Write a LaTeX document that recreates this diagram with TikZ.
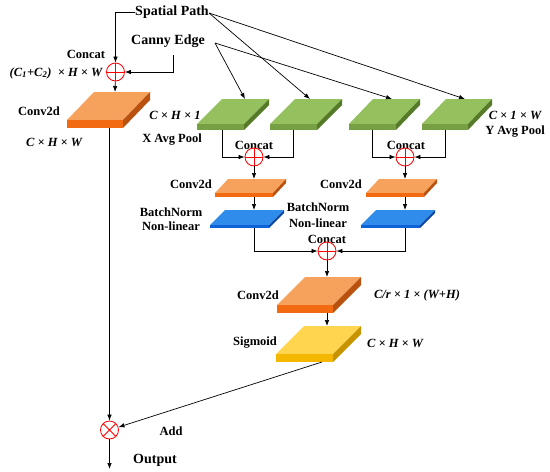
\documentclass[tikz,border=0pt]{standalone}
\usepackage{fontspec}
\setmainfont{Liberation Serif}
\usetikzlibrary{arrows.meta}
\definecolor{orT}{HTML}{F7A25C}
\definecolor{orF}{HTML}{F26B10}
\definecolor{orS}{HTML}{B8520E}
\definecolor{grT}{HTML}{95C05E}
\definecolor{grF}{HTML}{76A043}
\definecolor{grS}{HTML}{557A28}
\definecolor{blT}{HTML}{2F8CEB}
\definecolor{blF}{HTML}{0D62D8}
\definecolor{blS}{HTML}{0A47A2}
\definecolor{yeT}{HTML}{FFD550}
\definecolor{yeF}{HTML}{F5B800}
\definecolor{yeS}{HTML}{C79400}
% #1 x, #2 y of front-top-left, #3 width, #4 dx, #5 dy, #6 thickness, #7 top, #8 front, #9 side
\newcommand\mkslab[9]{%
  \fill[#7] (#1,#2) -- ({#1+#3},#2) -- ({#1+#3+#4},{#2-#5}) -- ({#1+#4},{#2-#5}) -- cycle;
  \fill[#8] (#1,#2) rectangle ({#1+#3},{#2+#6});
  \fill[#9] ({#1+#3},#2) -- ({#1+#3+#4},{#2-#5}) -- ({#1+#3+#4},{#2-#5+#6}) -- ({#1+#3},{#2+#6}) -- cycle;
}
\begin{document}
\begin{tikzpicture}[x=1pt,y=-1pt,
  arr/.style={-{Latex[length=6pt,width=4.5pt]},line width=0.7pt},
  ln/.style={line width=0.7pt},
  lbl/.style={inner sep=0pt,font=\bfseries\fontsize{12.5}{14}\selectfont},
  big/.style={inner sep=0pt,font=\bfseries\fontsize{14}{16}\selectfont},
  dim/.style={inner sep=0pt,font=\bfseries\itshape\fontsize{12.5}{14}\selectfont},
  cat/.style={circle,draw=red,fill=white,minimum size=18pt,inner sep=0pt,line width=0.8pt,
    path picture={\draw[red,line width=0.8pt] (path picture bounding box.north) -- (path picture bounding box.south)
      (path picture bounding box.west) -- (path picture bounding box.east);}},
  addc/.style={circle,draw=red,fill=white,minimum size=18pt,inner sep=0pt,line width=0.8pt,
    path picture={\draw[red,line width=0.8pt] (path picture bounding box.north west) -- (path picture bounding box.south east)
      (path picture bounding box.south west) -- (path picture bounding box.north east);}}]
\useasboundingbox (0,0) rectangle (550,472);

% slabs
\mkslab{67}{120}{56}{27}{28}{8}{orT}{orF}{orS}
\mkslab{197}{124}{47}{25}{25}{6}{grT}{grF}{grS}
\mkslab{270}{124}{47}{25}{25}{6}{grT}{grF}{grS}
\mkslab{349}{124}{47}{24}{25}{6}{grT}{grF}{grS}
\mkslab{422}{124}{46}{24}{25}{6}{grT}{grF}{grS}
\mkslab{215}{193}{58}{13}{14}{4}{orT}{orF}{orS}
\mkslab{366}{193}{58}{13}{14}{4}{orT}{orF}{orS}
\mkslab{210}{225}{59}{15}{15}{3}{blT}{blF}{blS}
\mkslab{361}{225}{59}{15}{15}{3}{blT}{blF}{blS}
\mkslab{277}{305}{56}{28}{28}{8}{orT}{orF}{orS}
\mkslab{276}{354}{57}{28}{28}{8}{yeT}{yeF}{yeS}

% coordinates on slabs
\coordinate (o1t) at (115,92);
\coordinate (o1b) at (109.5,128);
\coordinate (g1t) at (245,99);
\coordinate (g2t) at (310,99);
\coordinate (g3t) at (392,99);
\coordinate (g4t) at (465,99);
\coordinate (g1b) at (222,130);
\coordinate (g2b) at (293,130);
\coordinate (g3b) at (372,130);
\coordinate (g4b) at (445,130);
\coordinate (s1t) at (254,179);
\coordinate (s1b) at (254,197);
\coordinate (s2t) at (405,179);
\coordinate (s2b) at (405,197);
\coordinate (b1t) at (254,210);
\coordinate (b1b) at (254,228);
\coordinate (b2t) at (405,210);
\coordinate (b2b) at (405,228);
\coordinate (o2t) at (327,277);
\coordinate (o2b) at (327,313);
\coordinate (yt) at (327,326);
\coordinate (yb) at (322,362);
\coordinate (out) at (109.5,469);

% labels
\node[big] (sp) at (172,12) {Spatial Path};
\node[big] (ce) at (168,41) {Canny Edge};
\coordinate (sps) at (209,13);
\coordinate (ces) at (215,43);
\coordinate (cev) at (173,55);
\node[lbl] (lc1) at (86,54) {Concat};
\node[dim] (ld1) at (56,73) {(C\textsubscript{1}+C\textsubscript{2})\enspace × H × W};
\node[lbl] (lcv1) at (39,111) {Conv2d};
\node[dim] (ld2) at (54,142) {C × H × W};
\node[dim] (ld3) at (175,115) {C × H × 1};
\node[lbl] (lx) at (172,140) {X Avg Pool};
\node[dim] (ld4) at (515,115) {C × 1 × W};
\node[lbl] (ly) at (515,132) {Y Avg Pool};
\node[lbl] (lc2) at (254,145) {Concat};
\node[lbl] (lc3) at (406,145) {Concat};
\node[lbl] (lcv2) at (191,184) {Conv2d};
\node[lbl] (lcv3) at (341,184) {Conv2d};
\node[lbl] (lbn1) at (171,212) {BatchNorm};
\node[lbl] (lnl1) at (171,226) {Non-linear};
\node[lbl] (lbn2) at (318,207) {BatchNorm};
\node[lbl] (lnl2) at (318,223) {Non-linear};
\node[lbl] (lc4) at (327,239) {Concat};
\node[lbl] (lcv4) at (258,295) {Conv2d};
\node[dim] (ld5) at (417,295) {C/r × 1 × (W+H)};
\node[lbl] (lsg) at (255,343) {Sigmoid};
\node[dim] (ld6) at (395,343) {C × H × W};
\node[lbl] (ladd) at (171,431) {Add};
\node[big] (lout) at (155,460) {Output};

% operators
\node[cat] (c1) at (115.5,72) {};
\node[cat] (c2) at (254,157) {};
\node[cat] (c3) at (405,157) {};
\node[cat] (c4) at (327,251) {};
\node[addc] (add) at (109.5,430) {};

% connectors
\draw[arr] (sp.west) -| (c1);
\draw[arr] (cev) |- (c1);
\draw[arr] (c1) -- (o1t);
\draw[arr] (o1b) -- (add);
\draw[arr] (sps) -- (g2t);
\draw[arr] (sps) -- (g4t);
\draw[arr] (ces) -- (g1t);
\draw[arr] (ces) -- (g3t);
\draw[arr] (g1b) |- (c2);
\draw[arr] (g2b) |- (c2);
\draw[arr] (g3b) |- (c3);
\draw[arr] (g4b) |- (c3);
\draw[arr] (c2) -- (s1t);
\draw[arr] (c3) -- (s2t);
\draw[arr] (s1b) -- (b1t);
\draw[arr] (s2b) -- (b2t);
\draw[arr] (b1b) |- (c4);
\draw[arr] (b2b) |- (c4);
\draw[arr] (c4) -- (o2t);
\draw[arr] (o2b) -- (yt);
\draw[arr] (yb) -- (add);
\draw[arr] (add) -- (out);
\end{tikzpicture}
\end{document}
